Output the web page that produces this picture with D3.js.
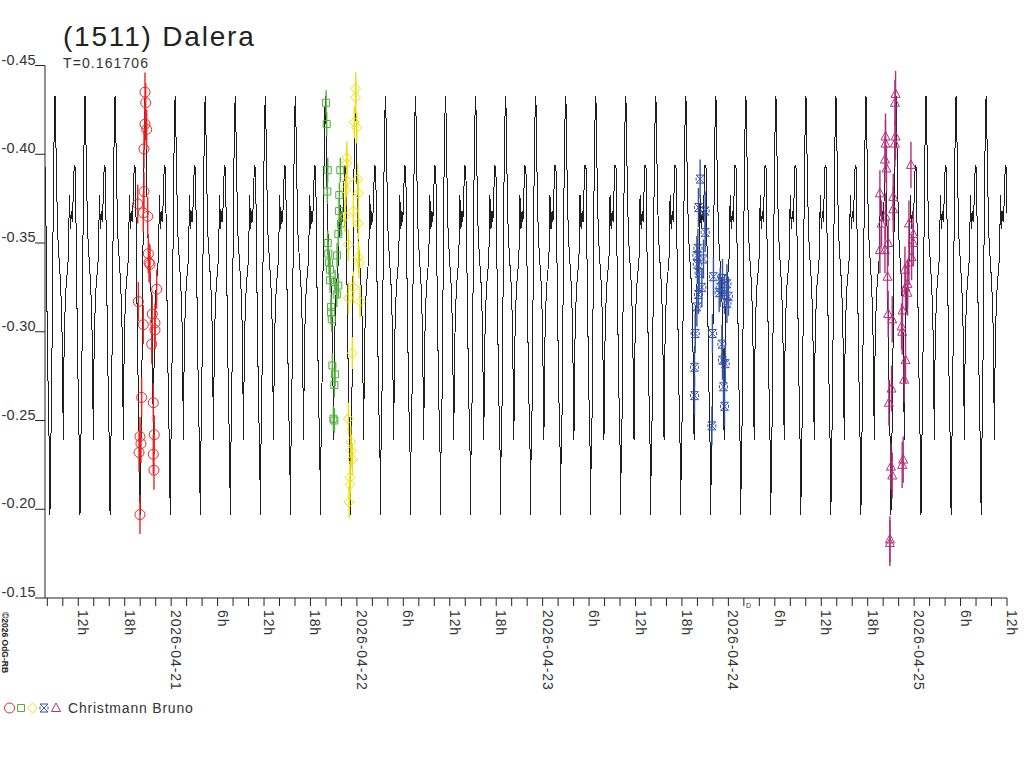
<!DOCTYPE html>
<html>
<head>
<meta charset="utf-8">
<script src="https://cdn.jsdelivr.net/npm/d3@7"></script>
<style>
  body { margin: 0; background: #fff; }
  svg { display: block; font-family: 'Liberation Sans', Arial, sans-serif; }
</style>
</head>
<body>
<script>
/* global d3 */

// times are hours after 2026-04-20 00:00 UT, values are magnitudes
let TITLE = '(1511) Dalera'
let PERIOD_LABEL = 'T=0.161706'
let PERIOD_DAYS = 0.161706
let EPOCH_MAX_HOURS = 8.99
let OBSERVER = 'Christmann Bruno'
let COPYRIGHT = '\u00a92026 OdG-RB'

let xDomainHours = [7.7, 132]
let yTickValues = [-0.45, -0.40, -0.35, -0.30, -0.25, -0.20, -0.15]

// one cycle of the model curve, phase from primary maximum
let curvePhase = [0.000, 0.015, 0.035, 0.060, 0.090, 0.140, 0.190, 0.230, 0.260, 0.278,
  0.300, 0.333, 0.370, 0.410, 0.445, 0.480, 0.515, 0.550, 0.580, 0.640, 0.680,
  0.720, 0.760, 0.800, 0.820, 0.833, 0.850, 0.880, 0.920, 0.945, 0.975]
let curveMag = [-0.433, -0.428, -0.403, -0.379, -0.355, -0.340, -0.326, -0.305, -0.265, -0.239,
  -0.285, -0.311, -0.326, -0.334, -0.342, -0.377, -0.358, -0.368, -0.362, -0.394, -0.392,
  -0.330, -0.280, -0.242, -0.232, -0.197, -0.230, -0.252, -0.326, -0.378, -0.416]

let redTimes = [20.62, 20.71, 20.62, 20.84, 20.49, 20.49, 19.68, 20.40, 20.97, 21.05,
  21.14, 21.27, 22.13, 19.76, 21.56, 20.40, 21.91, 21.91, 21.49, 20.19, 21.69, 19.97,
  21.82, 20.10, 19.85, 21.69, 21.78, 19.97]
let redMags = [-0.435, -0.429, -0.417, -0.414, -0.403, -0.379, -0.372, -0.367, -0.365, -0.344,
  -0.339, -0.338, -0.324, -0.317, -0.310, -0.304, -0.305, -0.301, -0.293, -0.263, -0.260, -0.241,
  -0.242, -0.237, -0.232, -0.231, -0.222, -0.197]

let greenTimes = [44.02, 44.10, 44.23, 44.18, 45.86, 45.73, 45.70, 45.95, 44.23, 45.60,
  44.31, 44.40, 44.53, 45.44, 44.53, 45.18, 45.60, 45.40, 44.66, 44.66, 44.75, 44.83,
  45.18, 45.09, 44.96, 45.09]
let greenMags = [-0.429, -0.417, -0.391, -0.379, -0.391, -0.377, -0.368, -0.361, -0.350, -0.355,
  -0.344, -0.339, -0.335, -0.343, -0.329, -0.328, -0.326, -0.321, -0.314, -0.311, -0.307, -0.281,
  -0.276, -0.270, -0.251, -0.250]

let yellowTimes = [47.85, 47.85, 47.67, 47.98, 46.69, 46.69, 48.11, 46.69, 48.19, 46.56,
  47.54, 46.47, 48.19, 46.90, 48.19, 48.28, 47.54, 46.90, 48.41, 47.41, 46.90, 47.21,
  47.25, 47.41, 47.12, 47.12, 46.99]
let yellowMags = [-0.437, -0.432, -0.418, -0.415, -0.398, -0.395, -0.386, -0.385, -0.378, -0.380,
  -0.368, -0.365, -0.361, -0.349, -0.342, -0.339, -0.325, -0.319, -0.317, -0.288, -0.251, -0.238,
  -0.233, -0.228, -0.218, -0.214, -0.204]

let blueTimes = [92.35, 92.13, 93.00, 93.00, 92.06, 91.93, 92.78, 91.99, 92.22, 92.57,
  92.13, 91.93, 94.07, 95.24, 95.81, 94.94, 94.81, 95.50, 96.01, 95.81, 91.71, 93.94,
  95.16, 95.24, 95.59, 91.62, 95.37, 91.62, 95.50, 93.87]
let blueMags = [-0.386, -0.370, -0.368, -0.356, -0.347, -0.343, -0.341, -0.338, -0.333, -0.325,
  -0.321, -0.314, -0.331, -0.330, -0.327, -0.325, -0.322, -0.321, -0.320, -0.316, -0.299, -0.299,
  -0.293, -0.284, -0.282, -0.280, -0.269, -0.264, -0.258, -0.247]

let magentaTimes = [117.60, 117.52, 116.30, 117.60, 116.30, 117.52, 116.23, 116.43, 119.59, 115.58,
  117.30, 117.30, 116.30, 115.79, 119.33, 119.89, 119.89, 116.65, 115.58, 116.23, 119.67, 119.33,
  118.81, 116.56, 119.15, 118.89, 119.15, 118.50, 116.65, 117.17, 118.37, 118.46, 118.89, 118.72,
  117.08, 116.74, 118.59, 118.46, 117.00, 117.17, 116.87, 116.87]
let magentaMags = [-0.434, -0.429, -0.410, -0.410, -0.406, -0.406, -0.397, -0.392, -0.394, -0.378,
  -0.376, -0.369, -0.365, -0.361, -0.361, -0.355, -0.350, -0.350, -0.346, -0.346, -0.342, -0.339,
  -0.335, -0.331, -0.327, -0.325, -0.322, -0.312, -0.310, -0.307, -0.303, -0.300, -0.284, -0.273,
  -0.268, -0.260, -0.228, -0.225, -0.224, -0.219, -0.183, -0.181]

let sessionErrors = [0.011, 0.007, 0.009, 0.011, 0.013]

function main () {
  let sessions = [
    {times: redTimes, mags: redMags, color: '#ee2424', symbol: 'circle'},
    {times: greenTimes, mags: greenMags, color: '#4fae3a', symbol: 'square'},
    {times: yellowTimes, mags: yellowMags, color: '#f0e000', symbol: 'diamond'},
    {times: blueTimes, mags: blueMags, color: '#3452a8', symbol: 'bowtie'},
    {times: magentaTimes, mags: magentaMags, color: '#b0307c', symbol: 'triangle'},
  ]
  sessions.forEach((s, i) => { s.error = sessionErrors[i] })
  let viz = new LightcurveViz()
  viz.render(sessions)
}

let hoursToDate = h => new Date(Date.UTC(2026, 3, 20) + h * 3600e3)

class LightcurveViz {
  constructor () {
    this.dims = {width: 1024, height: 768, left: 45, right: 1007, top: 65.5, bottom: 598}
    this.svg = d3.select('body').append('svg')
      .attr('width', this.dims.width)
      .attr('height', this.dims.height)
    this.x = d3.scaleUtc()
      .domain(xDomainHours.map(hoursToDate))
      .range([this.dims.left, this.dims.right])
    this.y = d3.scaleLinear()
      .domain([-0.45, -0.15])
      .range([this.dims.top, this.dims.bottom])
  }

  render (sessions) {
    this.renderTitle()
    this.renderCurve()
    for (let s of sessions) this.renderSession(s)
    this.renderAxes()
    this.renderLegend(sessions)
  }

  renderTitle () {
    this.svg.append('text')
      .attr('x', 63).attr('y', 46)
      .attr('font-size', 28).attr('letter-spacing', 1.8)
      .attr('fill', '#222')
      .text(TITLE)
    this.svg.append('text')
      .attr('x', 63).attr('y', 68)
      .attr('font-size', 14).attr('letter-spacing', 1.1)
      .attr('fill', '#333')
      .text(PERIOD_LABEL)
  }

  renderCurve () {
    let periodHours = PERIOD_DAYS * 24
    let first = Math.floor((xDomainHours[0] - EPOCH_MAX_HOURS) / periodHours) - 1
    let last = Math.ceil((xDomainHours[1] - EPOCH_MAX_HOURS) / periodHours) + 1
    let points = []
    for (let k = first; k <= last; k++) {
      curvePhase.forEach((ph, i) => {
        points.push({t: EPOCH_MAX_HOURS + (k + ph) * periodHours, m: curveMag[i]})
      })
    }
    this.svg.append('clipPath').attr('id', 'plot-clip')
      .append('rect')
      .attr('x', this.dims.left).attr('y', 0)
      .attr('width', this.dims.right - this.dims.left)
      .attr('height', this.dims.bottom)
    this.svg.append('path')
      .datum(points)
      .attr('clip-path', 'url(#plot-clip)')
      .attr('fill', 'none')
      .attr('stroke', '#1e1e1e')
      .attr('stroke-width', 1)
      .attr('shape-rendering', 'crispEdges')
      .attr('d', d3.line()
        .x(d => this.x(hoursToDate(d.t)))
        .y(d => this.y(d.m)))
  }

  symbolPath (symbol) {
    if (symbol === 'circle') return 'M-5,0a5,5 0 1,0 10,0a5,5 0 1,0 -10,0'
    if (symbol === 'square') return 'M-3.5,-3.5H3.5V3.5H-3.5Z'
    if (symbol === 'diamond') return 'M0,-5L5,0L0,5L-5,0Z'
    if (symbol === 'triangle') return 'M0,-5L4.5,3.5H-4.5Z'
    return 'M-4,-4H4M-4,4H4M-4,-4L4,4M4,-4L-4,4M-4,-1.5V1.5M4,-1.5V1.5'
  }

  renderSession (s) {
    let g = this.svg.append('g').attr('class', 'session')
    let pts = s.times.map((t, i) => ({t, m: s.mags[i]}))
    g.selectAll('line').data(pts).enter()
      .append('line')
      .attr('x1', d => this.x(hoursToDate(d.t)))
      .attr('x2', d => this.x(hoursToDate(d.t)))
      .attr('y1', d => this.y(d.m - s.error))
      .attr('y2', d => this.y(d.m + s.error))
      .attr('stroke', s.color)
      .attr('stroke-width', 1.4)
    g.selectAll('path').data(pts).enter()
      .append('path')
      .attr('transform', d => `translate(${this.x(hoursToDate(d.t))},${this.y(d.m)})`)
      .attr('d', this.symbolPath(s.symbol))
      .attr('fill', 'none')
      .attr('stroke', s.color)
      .attr('stroke-width', 1)
  }

  renderAxes () {
    let axisColor = '#222'
    let {left, right, top, bottom} = this.dims
    let g = this.svg.append('g').attr('class', 'axes')
    let fmtMag = d3.formatLocale({
      decimal: '.', thousands: ',', grouping: [3], currency: ['', ''], minus: '-'
    }).format('.2f')

    g.append('line')
      .attr('x1', left).attr('x2', left).attr('y1', top).attr('y2', bottom)
      .attr('stroke', axisColor)
    let yTicks = g.selectAll('.ytick').data(yTickValues).enter()
      .append('g').attr('class', 'ytick')
      .attr('transform', d => `translate(0,${this.y(d)})`)
    yTicks.append('line')
      .attr('x1', left - 10).attr('x2', left)
      .attr('stroke', axisColor)
    yTicks.append('text')
      .attr('x', left - 9).attr('y', -1)
      .attr('text-anchor', 'end')
      .attr('font-size', 14.5).attr('letter-spacing', 0.3)
      .attr('fill', '#333')
      .text(fmtMag)

    g.append('line')
      .attr('x1', left).attr('x2', right).attr('y1', bottom).attr('y2', bottom)
      .attr('stroke', axisColor)
    let xTicks = g.selectAll('.xtick').data(this.x.ticks(d3.utcHour.every(2))).enter()
      .append('g').attr('class', 'xtick')
      .attr('transform', d => `translate(${this.x(d)},${bottom})`)
    xTicks.append('line')
      .attr('y1', 0).attr('y2', 8)
      .attr('stroke', axisColor)
    let fmtDay = d3.utcFormat('%Y-%m-%d')
    xTicks.filter(d => d.getUTCHours() % 6 === 0)
      .append('text')
      .attr('transform', 'translate(0,12) rotate(90)')
      .attr('font-size', 14).attr('letter-spacing', 0.9)
      .attr('fill', '#333')
      .text(d => d.getUTCHours() === 0 ? fmtDay(d) : `${d.getUTCHours()}h`)

    // small marker under the axis near 2026-04-24
    this.svg.append('text')
      .attr('x', 746).attr('y', 608)
      .attr('font-size', 7).attr('fill', '#333')
      .text('D')

    this.svg.append('text')
      .attr('transform', 'translate(2,612) rotate(90)')
      .attr('font-size', 8.5).attr('font-weight', 'bold')
      .attr('fill', '#222')
      .text(COPYRIGHT)
  }

  renderLegend (sessions) {
    let g = this.svg.append('g').attr('class', 'legend')
    let xs = [9.5, 21, 32.5, 44, 56]
    sessions.forEach((s, i) => {
      g.append('path')
        .attr('transform', `translate(${xs[i]},708)`)
        .attr('d', this.symbolPath(s.symbol))
        .attr('fill', 'none')
        .attr('stroke', s.color)
        .attr('stroke-width', 1)
    })
    g.append('text')
      .attr('x', 68).attr('y', 713)
      .attr('font-size', 14).attr('letter-spacing', 0.8)
      .attr('fill', '#333')
      .text(OBSERVER)
  }
}

main()
</script>
</body>
</html>
